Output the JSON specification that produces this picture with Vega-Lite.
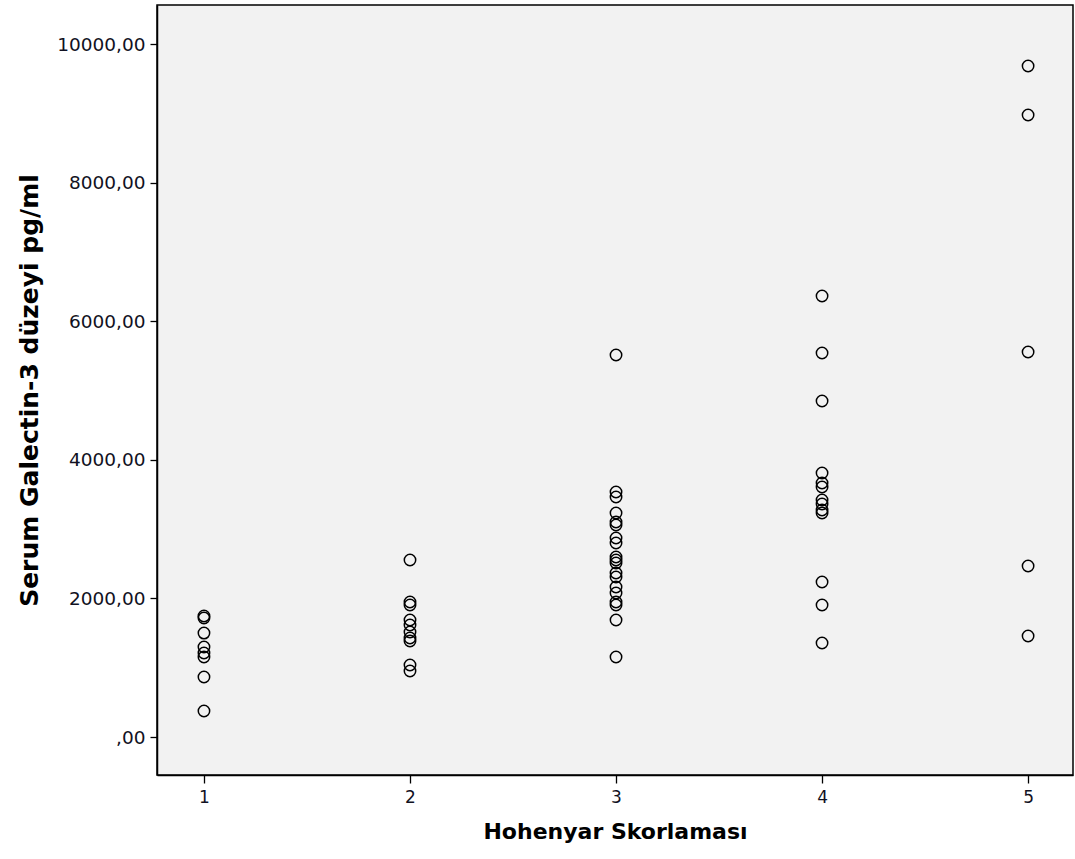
{
  "$schema": "https://vega.github.io/schema/vega-lite/v6.json",
  "width": 916,
  "height": 770,
  "autosize": {"type": "none"},
  "padding": {"left": 157, "top": 5, "right": 2, "bottom": 84},
  "background": "white",
  "config": {
    "view": {"fill": "#f2f2f2", "stroke": "#000000", "strokeWidth": 1.5},
    "axis": {"grid": false}
  },
  "data": {
    "values": [
      {"skor": 1, "galectin": 1746}, {"skor": 1, "galectin": 1717}, {"skor": 1, "galectin": 1500},
      {"skor": 1, "galectin": 1299}, {"skor": 1, "galectin": 1212}, {"skor": 1, "galectin": 1154},
      {"skor": 1, "galectin": 866}, {"skor": 1, "galectin": 375},
      {"skor": 2, "galectin": 2554}, {"skor": 2, "galectin": 1948}, {"skor": 2, "galectin": 1905},
      {"skor": 2, "galectin": 1688}, {"skor": 2, "galectin": 1616}, {"skor": 2, "galectin": 1515},
      {"skor": 2, "galectin": 1429}, {"skor": 2, "galectin": 1385}, {"skor": 2, "galectin": 1039},
      {"skor": 2, "galectin": 952},
      {"skor": 3, "galectin": 5512}, {"skor": 3, "galectin": 3535}, {"skor": 3, "galectin": 3463},
      {"skor": 3, "galectin": 3232}, {"skor": 3, "galectin": 3102}, {"skor": 3, "galectin": 3059},
      {"skor": 3, "galectin": 2871}, {"skor": 3, "galectin": 2800}, {"skor": 3, "galectin": 2597},
      {"skor": 3, "galectin": 2554}, {"skor": 3, "galectin": 2511}, {"skor": 3, "galectin": 2366},
      {"skor": 3, "galectin": 2309}, {"skor": 3, "galectin": 2164}, {"skor": 3, "galectin": 2078},
      {"skor": 3, "galectin": 1948}, {"skor": 3, "galectin": 1905}, {"skor": 3, "galectin": 1688},
      {"skor": 3, "galectin": 1154},
      {"skor": 4, "galectin": 6364}, {"skor": 4, "galectin": 5541}, {"skor": 4, "galectin": 4848},
      {"skor": 4, "galectin": 3810}, {"skor": 4, "galectin": 3665}, {"skor": 4, "galectin": 3608},
      {"skor": 4, "galectin": 3420}, {"skor": 4, "galectin": 3362}, {"skor": 4, "galectin": 3276},
      {"skor": 4, "galectin": 3232}, {"skor": 4, "galectin": 2237}, {"skor": 4, "galectin": 1905},
      {"skor": 4, "galectin": 1356},
      {"skor": 5, "galectin": 9683}, {"skor": 5, "galectin": 8975}, {"skor": 5, "galectin": 5556},
      {"skor": 5, "galectin": 2468}, {"skor": 5, "galectin": 1457}
    ]
  },
  "mark": {"type": "point", "shape": "circle", "filled": false, "stroke": "#000000", "strokeWidth": 1.5, "size": 130, "opacity": 1},
  "encoding": {
    "x": {
      "field": "skor", "type": "quantitative",
      "scale": {"domain": [0.772, 5.218], "nice": false, "zero": false},
      "axis": {
        "values": [1, 2, 3, 4, 5], "format": "d",
        "title": "Hohenyar Skorlaması",
        "titleFont": "DejaVu Sans", "titleFontWeight": "bold", "titleFontSize": 22, "titleColor": "#000000",
        "titlePadding": 16,
        "labelFont": "DejaVu Sans", "labelFontSize": 17, "labelColor": "#111122", "labelPadding": 6,
        "tickColor": "#000000", "tickSize": 8, "tickWidth": 1.3,
        "domainColor": "#000000", "domainWidth": 1.5
      }
    },
    "y": {
      "field": "galectin", "type": "quantitative",
      "scale": {"domain": [-548, 10563], "nice": false, "zero": false},
      "axis": {
        "values": [0, 2000, 4000, 6000, 8000, 10000],
        "labelExpr": "datum.value == 0 ? ',00' : datum.value + ',00'",
        "title": "Serum Galectin-3 düzeyi pg/ml",
        "titleFont": "DejaVu Sans", "titleFontWeight": "bold", "titleFontSize": 25, "titleColor": "#000000",
        "titlePadding": 14,
        "labelFont": "DejaVu Sans", "labelFontSize": 18.5, "labelColor": "#111122", "labelPadding": 5,
        "tickColor": "#000000", "tickSize": 7, "tickWidth": 1.3,
        "domainColor": "#000000", "domainWidth": 1.5
      }
    }
  }
}
